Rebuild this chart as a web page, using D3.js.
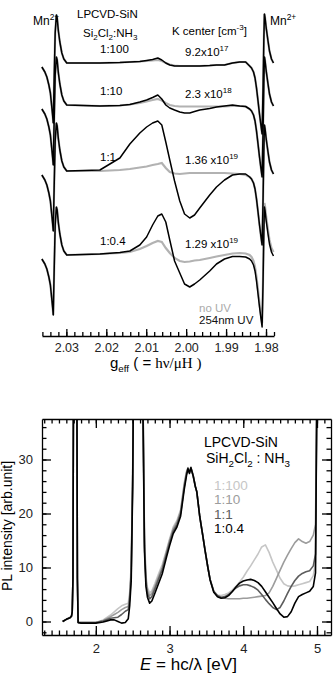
<!DOCTYPE html>
<html>
<head>
<meta charset="utf-8">
<script src="https://cdn.jsdelivr.net/npm/d3@7"></script>
<style>
body { margin: 0; background: #fff; }
text { font-family: "Liberation Sans", Arial, sans-serif; }
</style>
</head>
<body>
<script>
// ---------------- ESR panel data (g value / dI/dH, arb.) ----------------
var esrRatio = ["1:100", "1:10", "1:1", "1:0.4"];
var esrOffset = [27.1, 22.9, 16.3, 7.9];
var kMant = ["9.2x10", "2.3 x10", "1.36 x10", "1.29 x10"];
var kExp = ["17", "18", "19", "19"];

// Mn2+ marker lines, shape relative to each trace baseline
var mnLeftG = [2.03613, 2.03538, 2.03488, 2.03438, 2.0340, 2.0337, 2.03345, 2.03328, 2.03305, 2.0328, 2.0325, 2.0323, 2.0320, 2.03163, 2.03113, 2.03063];
var mnLeftI = [-0.4, -0.9, -1.4, -2.2, -3.0, -4.2, -5.2, -6.0, -1.5, 3.0, 4.8, 4.5, 3.2, 2.1, 1.0, 0.4];
var mnRightG = [1.98363, 1.98313, 1.98275, 1.98238, 1.9820, 1.98163, 1.98125, 1.98098, 1.98075, 1.98055, 1.9804, 1.98023, 1.97995, 1.9795, 1.97913, 1.97863, 1.97813];
var mnRightI = [-0.2, -0.6, -1.2, -2.2, -3.5, -4.8, -6.0, -6.8, -2.5, 2.5, 5.2, 4.8, 3.8, 2.5, 1.5, 0.7, 0.3];

// K center region
var kG = [2.0299, 2.0216, 2.0166, 2.0141, 2.0116, 2.0099, 2.0084, 2.0071, 2.0061, 2.0051, 2.0041, 2.0029, 2.0016, 2.0004, 1.9991, 1.9979, 1.9966, 1.9941, 1.9924, 1.9904, 1.9884, 1.9866, 1.9851, 1.9841];
var kUv100   = [0, 0, 0.05, 0.1, 0.15, 0.25, 0.35, 0.5, 0.3, 0, -0.2, -0.3, -0.3, -0.3, -0.3, -0.3, -0.3, -0.25, -0.2, -0.2, 0, 0.1, 0.1, -0.3];
var kNoUv100 = [0, 0, 0.05, 0.1, 0.15, 0.2, 0.25, 0.3, 0.2, 0, -0.15, -0.25, -0.3, -0.3, -0.3, -0.3, -0.3, -0.25, -0.2, -0.2, 0, 0.1, 0.1, -0.3];
var kUv10    = [0, -0.1, -0.05, 0.05, 0.3, 0.5, 0.75, 1.0, 0.6, 0.0, -0.3, -0.5, -0.7, -0.8, -0.8, -0.65, -0.5, -0.35, -0.2, -0.1, 0, -0.1, -0.15, -0.4];
var kNoUv10  = [0, -0.1, -0.05, 0.05, 0.2, 0.35, 0.5, 0.6, 0.45, 0.2, 0.0, -0.1, -0.15, -0.15, -0.15, -0.15, -0.15, -0.15, -0.15, -0.15, -0.1, -0.1, -0.15, -0.4];
var kUv1     = [0, 0.1, 1.3, 2.7, 3.8, 4.4, 4.8, 5.0, 4.6, 2.9, 1.1, -1.0, -3.0, -4.3, -4.7, -4.4, -3.7, -2.4, -1.6, -0.9, -0.4, -0.3, -0.3, -0.6];
var kNoUv1   = [0, 0, 0.1, 0.2, 0.35, 0.45, 0.6, 0.7, 0.8, 0.3, -0.1, -0.25, -0.3, -0.25, -0.2, -0.2, -0.2, -0.2, -0.2, -0.2, -0.25, -0.3, -0.4, -0.6];
var kUv04    = [0, 0.1, 0.25, 0.4, 1.0, 1.8, 3.0, 3.9, 4.1, 3.3, 1.5, -0.6, -1.8, -2.9, -3.2, -2.9, -2.5, -1.6, -0.9, -0.4, -0.15, -0.15, -0.2, -0.4];
var kNoUv04  = [0, 0.1, 0.2, 0.3, 0.6, 0.9, 1.2, 1.4, 1.3, 0.7, 0.2, -0.3, -0.6, -0.7, -0.65, -0.55, -0.5, -0.3, -0.15, 0.0, 0.15, 0.2, 0.15, 0.0];
var kUv = [kUv100, kUv10, kUv1, kUv04];
var kNoUv = [kNoUv100, kNoUv10, kNoUv1, kNoUv04];
var gMajor = [2.03, 2.02, 2.01, 2.00, 1.99, 1.98];

// ---------------- PL panel data (eV / arb.unit) ----------------
var plRatio = ["1:100", "1:10", "1:1", "1:0.4"];
var plColor = ["#c6c6c6", "#9c9c9c", "#5c5c5c", "#000000"];
var plE = [1.55, 1.60, 1.65, 1.67, 1.68, 1.69, 1.70, 1.74, 1.75, 1.76, 1.80, 1.90,
	2.00, 2.10, 2.20, 2.25, 2.30, 2.35, 2.40, 2.44, 2.46, 2.48, 2.50, 2.52,
	2.60, 2.62, 2.64, 2.66, 2.68, 2.70, 2.73, 2.76, 2.80, 2.85, 2.90, 2.96,
	3.00, 3.05, 3.10, 3.15, 3.18, 3.20, 3.23, 3.25, 3.27, 3.29, 3.32, 3.35,
	3.37, 3.41, 3.45, 3.48, 3.52, 3.55, 3.60, 3.65, 3.70, 3.75, 3.80, 3.85,
	3.90, 3.95, 4.00, 4.05, 4.10, 4.15, 4.20, 4.25, 4.30, 4.35, 4.40, 4.45,
	4.50, 4.55, 4.60, 4.65, 4.70, 4.75, 4.80, 4.85, 4.90, 4.95, 4.98, 5.00, 5.02];
var pl100 = [0, 0.4, 0.7, 1.0, 1.8, 8, 60, 60, 8, -0.2, -0.2, -0.2,
	-0.2, 0.3, 1.2, 1.8, 2.4, 2.9, 3.2, 3.4, 5.5, 10.5, 28, 60,
	60, 60, 42, 16, 8.5, 6.3, 5.3, 5.7, 7.0, 8.8, 10.5, 13.3,
	15.3, 17.5, 18.7, 20.7, 23.7, 25.7, 27.8, 28.5, 27.8, 28.6, 27.2, 25.0,
	24.0, 19.4, 16.0, 13.3, 10.0, 7.8, 5.6, 4.9, 4.8, 5.0, 5.3, 5.8,
	6.5, 7.3, 8.2, 9.3, 10.3, 11.4, 12.5, 13.8, 14.2, 12.8, 11.0, 9.5,
	8.0, 7.0, 6.6, 6.5, 6.6, 6.8, 7.0, 7.2, 7.4, 8.5, 11, 45, 60];
var pl10 = [0, 0.4, 0.7, 1.0, 1.8, 8, 60, 60, 8, -0.2, -0.2, -0.2,
	-0.2, 0.2, 0.9, 1.3, 1.7, 2.2, 2.6, 2.8, 4.8, 9.5, 27, 60,
	60, 60, 41, 15, 7.8, 5.8, 4.8, 5.2, 6.5, 8.3, 10.0, 13.0,
	15.0, 17.2, 18.4, 20.4, 23.4, 25.4, 27.6, 28.4, 27.6, 28.5, 27.0, 25.0,
	24.0, 19.4, 16.0, 13.3, 10.0, 7.8, 5.5, 4.7, 4.4, 4.3, 4.2, 4.2,
	4.2, 4.2, 4.3, 4.3, 4.4, 4.5, 4.6, 4.7, 4.8, 5.3, 6.5, 8.0,
	9.5, 11.0, 12.3, 13.5, 14.6, 15.3, 14.8, 14.5, 14.8, 16.0, 18.0, 45, 60];
var pl1 = [0, 0.4, 0.7, 1.0, 1.8, 8, 60, 60, 8, -0.2, -0.2, -0.2,
	-0.2, 0.1, 0.6, 0.7, 0.8, 1.3, 1.9, 2.2, 4.2, 9, 26, 60,
	60, 60, 40, 14, 7.2, 5.2, 4.2, 4.6, 6.0, 7.8, 9.6, 12.6,
	14.6, 16.8, 18.0, 20.0, 23.0, 25.0, 27.4, 28.4, 27.6, 28.4, 27.0, 25.0,
	24.0, 19.4, 16.0, 13.3, 10.0, 7.8, 5.6, 4.8, 4.5, 4.6, 5.0, 5.6,
	6.2, 6.6, 6.8, 6.8, 6.6, 6.3, 5.8, 5.0, 4.1, 3.3, 2.6, 2.2,
	2.6, 3.8, 5.2, 6.5, 7.6, 8.4, 8.9, 9.2, 9.4, 10.3, 12.5, 45, 60];
var pl04 = [0, 0.4, 0.7, 1.0, 1.8, 8, 60, 60, 8, -0.2, -0.3, -0.3,
	-0.3, -0.1, 0.3, 0.3, 0.0, -0.3, -0.2, 0.5, 3.0, 7.5, 25, 60,
	60, 60, 38, 13, 6.5, 4.5, 3.4, 3.8, 5.2, 7.0, 8.8, 12.0,
	14.0, 16.3, 17.5, 19.5, 22.5, 24.5, 27.0, 28.3, 27.4, 28.5, 27.0, 25.0,
	24.0, 19.4, 16.0, 13.3, 10.0, 7.7, 5.4, 4.6, 4.3, 4.4, 4.8, 5.5,
	6.4, 7.1, 7.5, 7.7, 7.8, 7.6, 7.2, 6.5, 5.5, 4.5, 3.5, 2.4,
	1.4, 0.8, 0.9, 1.8, 3.4, 4.6, 5.0, 5.3, 5.6, 6.5, 9, 45, 60];
var plSeries = [pl100, pl10, pl1, pl04];
var eMajor = [2, 3, 4, 5];
var iMajor = [0, 10, 20, 30];

// ---------------- drawing ----------------
var svg = d3.select("body").append("svg")
		.attr("width", 334)
		.attr("height", 683);

function rich(sel, parts, size){
	var shift = 0;
	parts.forEach(function(p){
		var target = p[1] == "sup" ? -size * 0.45 : (p[1] == "sub" ? size * 0.3 : 0);
		var t = sel.append("tspan").text(p[0]).attr("dy", target - shift);
		if (p[1]) t.attr("font-size", size * 0.7);
		if (p[2]) t.attr("font-family", p[2]);
		shift = target;
	});
	return sel;
}

// ESR
var xG = d3.scaleLinear().domain([2.0361, 1.9780]).range([42, 274]);
var yG = d3.scaleLinear().domain([0, 33]).range([334, 4]);

var esrLine = d3.line()
	.x(function(d){ return xG(d[0]); })
	.y(function(d){ return yG(d[1]); });

function esrTrace(offset, k){
	var last = k[k.length - 1];
	var pts = [];
	mnLeftG.forEach(function(g, i){ pts.push([g, offset + mnLeftI[i]]); });
	kG.forEach(function(g, i){ pts.push([g, offset + k[i]]); });
	mnRightG.forEach(function(g, i){ pts.push([g, offset + last + mnRightI[i]]); });
	return pts;
}

var esr = svg.append("g");
esrOffset.forEach(function(off, i){
	esr.append("path")
		.attr("d", esrLine(esrTrace(off, kNoUv[i])))
		.attr("fill", "none")
		.attr("stroke", "#b2b2b2")
		.attr("stroke-width", 2.2);
});
esrOffset.forEach(function(off, i){
	esr.append("path")
		.attr("d", esrLine(esrTrace(off, kUv[i])))
		.attr("fill", "none")
		.attr("stroke", "#000")
		.attr("stroke-width", 1.5)
		.attr("stroke-linejoin", "round");
});

var esrAxis = svg.append("g")
	.attr("transform", "translate(0,336)")
	.call(d3.axisBottom(xG).tickValues(gMajor).tickSize(-7).tickSizeOuter(0).tickPadding(7).tickFormat(d3.format(".2f")));
svg.append("g")
	.attr("transform", "translate(0,336)")
	.call(d3.axisBottom(xG).tickValues(d3.range(0, 30).map(function(i){ return 2.036 - i * 0.002; })).tickSize(-4).tickSizeOuter(0).tickFormat(""))
	.select(".domain").remove();
esrAxis.selectAll("text").attr("font-size", 12.5).attr("font-family", null).attr("fill", "#222");
svg.selectAll(".tick line, .domain").attr("stroke-width", 1.2);

var fs = 11.5;
svg.append("text").attr("x", 33).attr("y", 25).attr("font-size", 12).call(rich, [["Mn"], ["2+", "sup"]], 12);
svg.append("text").attr("x", 270).attr("y", 25).attr("font-size", 12).call(rich, [["Mn"], ["2+", "sup"]], 12);
svg.append("text").attr("x", 77).attr("y", 18).attr("font-size", fs).text("LPCVD-SiN");
svg.append("text").attr("x", 83).attr("y", 37).attr("font-size", fs)
	.call(rich, [["Si"], ["2", "sub"], ["Cl"], ["2", "sub"], [":NH"], ["3", "sub"]], fs);
svg.append("text").attr("x", 172).attr("y", 35).attr("font-size", fs)
	.call(rich, [["K center [cm"], ["-3", "sup"], ["]"]], fs);

esrRatio.forEach(function(r, i){
	svg.append("text")
		.attr("x", 100)
		.attr("y", yG(esrOffset[i]) - 10)
		.attr("font-size", fs)
		.text(r);
	svg.append("text")
		.attr("x", 185)
		.attr("y", yG(esrOffset[i]) - 7)
		.attr("font-size", fs)
		.call(rich, [[kMant[i]], [kExp[i], "sup"]], fs);
});
svg.append("text").attr("x", 199).attr("y", 312).attr("font-size", fs).attr("fill", "#aaa").text("no UV");
svg.append("text").attr("x", 199).attr("y", 324).attr("font-size", fs).attr("fill", "#111").text("254nm UV");
svg.append("text").attr("x", 110).attr("y", 368).attr("font-size", 15)
	.call(rich, [["g"], ["eff", "sub"], ["  ( = "], ["h\u03bd/\u03bcH )", null, "'Liberation Serif', 'Times New Roman', serif"]], 14);

// PL
var xE = d3.scaleLinear().domain([1.27, 5.19]).range([42, 331]);
var yP = d3.scaleLinear().domain([-2.5, 37.5]).range([635, 419]);

svg.append("clipPath").attr("id", "plclip")
	.append("rect")
		.attr("x", xE.range()[0])
		.attr("y", yP.range()[1])
		.attr("width", xE.range()[1] - xE.range()[0])
		.attr("height", yP.range()[0] - yP.range()[1]);

var plLine = d3.line()
	.x(function(d, i){ return xE(plE[i]); })
	.y(function(d){ return yP(d); });

var pl = svg.append("g").attr("clip-path", "url(#plclip)");
plSeries.forEach(function(s, i){
	pl.append("path")
		.attr("d", plLine(s))
		.attr("fill", "none")
		.attr("stroke", plColor[i])
		.attr("stroke-width", 1.6)
		.attr("stroke-linejoin", "round");
});

var eMinor = d3.range(13, 52).map(function(i){ return i / 10; });
var iMinor = d3.range(-2, 38, 2);

function plAxis(axis, tr, major, minor, labels){
	var g = svg.append("g").attr("transform", tr)
		.call(axis.tickValues(major).tickSize(-9).tickSizeOuter(0).tickPadding(labels ? 9 : 0).tickFormat(labels ? d3.format("d") : ""));
	g.selectAll("text").attr("font-size", 13).attr("font-family", null).attr("fill", "#222");
	svg.append("g").attr("transform", tr)
		.call(axis.tickValues(minor).tickSize(-4.5).tickFormat(""))
		.select(".domain").remove();
}
plAxis(d3.axisBottom(xE), "translate(0,635)", eMajor, eMinor, true);
plAxis(d3.axisTop(xE), "translate(0,419)", eMajor, eMinor, false);
plAxis(d3.axisLeft(yP), "translate(42,0)", iMajor, iMinor, true);
plAxis(d3.axisRight(yP), "translate(331,0)", iMajor, iMinor, false);
svg.selectAll(".tick line, .domain").attr("stroke-width", 1.3);

svg.append("text").attr("x", 204).attr("y", 447).attr("font-size", 14).text("LPCVD-SiN");
svg.append("text").attr("x", 206).attr("y", 463).attr("font-size", 14)
	.call(rich, [["SiH"], ["2", "sub"], ["Cl"], ["2", "sub"], [" : NH"], ["3", "sub"]], 14);
plRatio.forEach(function(r, i){
	svg.append("text")
		.attr("x", 214)
		.attr("y", 490 + i * 14.3)
		.attr("font-size", 13.5)
		.attr("fill", plColor[i])
		.text(r);
});

svg.append("text")
	.attr("transform", "translate(12,526) rotate(-90)")
	.attr("text-anchor", "middle")
	.attr("font-size", 14)
	.text("PL intensity [arb.unit]");
var xl = svg.append("text").attr("x", 140).attr("y", 670).attr("font-size", 17);
xl.append("tspan").attr("font-style", "italic").text("E");
xl.append("tspan").text(" = hc/\u03bb [eV]");
</script>
</body>
</html>
